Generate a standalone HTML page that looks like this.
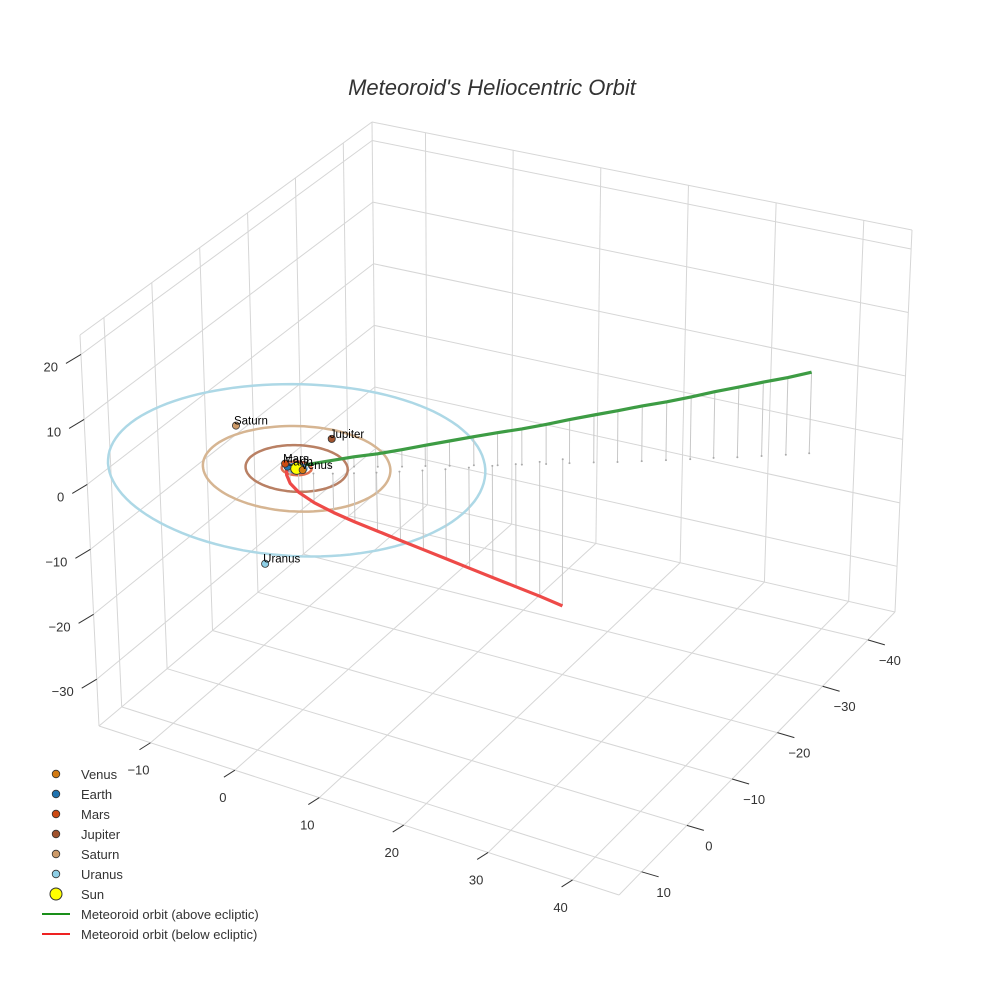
<!DOCTYPE html>
<html><head><meta charset="utf-8"><style>
html,body{margin:0;padding:0;background:#fff;}
svg{display:block;font-family:"Liberation Sans",Arial,sans-serif;}
</style></head><body>
<svg id="chart" width="984" height="984" viewBox="0 0 984 984">
<text x="492" y="95" text-anchor="middle" font-size="22" font-style="italic" fill="#333">Meteoroid's Heliocentric Orbit</text>
<g id="grid"></g>
<g id="axes"></g>
<g id="plot"></g>
<g id="legend"></g>
</svg>
<script>
// ---- data ----
const xTicks = [-10, 0, 10, 20, 30, 40];
const yTicks = [-40, -30, -20, -10, 0, 10];
const zTicks = [-30, -20, -10, 0, 10, 20];
const planetNames = ["Venus", "Earth", "Mars", "Jupiter", "Saturn", "Uranus"];
const planetX = [0.7, -0.98, -1.5, 0.74, -9.15, 7.26];
const planetY = [0.0, 0.15, -0.3, -6.15, -3.95, 20.06];
const planetZ = [0, 0, 0, 1.2, 1.0, 0];
const orbitRadius = [0.72, 1.0, 1.52, 5.2, 9.54, 19.2];
const planetColors = ["#d27a12", "#1f73b0", "#cc4a12", "#a0522d", "#cd9a68", "#8ecfe6"];
const orbitColors = ["#e0a050", "#5aa0d8", "#e07050", "#b98064", "#d6b592", "#add8e6"];
const gx = [0.6,2.7,4.8,6.9,9.0,11.0,13.1,15.2,17.3,19.4,21.5,23.5,25.6,27.7,29.8,31.9,34.0,36.0,38.1,40.2,42.3,44.3];
const gy = [-0.8,-2.1,-3.4,-4.6,-5.9,-7.2,-8.5,-9.8,-11.0,-12.3,-13.6,-14.9,-16.2,-17.4,-18.7,-20.0,-21.3,-22.6,-23.8,-25.1,-26.4,-27.7];
const gz = [0.3,0.9,1.5,2.0,2.6,3.2,3.8,4.4,5.0,5.5,6.1,6.7,7.3,7.9,8.5,9.0,9.6,10.2,10.8,11.4,11.9,12.5];
const rx = [-1.0,-0.8,-0.3,0.6,2.0,3.7,5.5,7.4,9.3,11.2,13.1,15.0,16.9,18.8,20.7,22.5];
const ry = [0.3,0.7,0.9,0.7,0.1,-0.9,-2.1,-3.4,-4.8,-6.2,-7.6,-9.1,-10.6,-12.1,-13.7,-15.3];
const rz = [0,-0.9,-1.9,-3.1,-4.5,-6.0,-7.5,-9.0,-10.6,-12.2,-13.8,-15.5,-17.2,-18.9,-20.7,-22.6];

// ---- projection ----
const XR=[-16.1,45.5], YR=[-46,15], ZR=[-37.2,23];
const C={c000:[376,493],c010:[99,726],c110:[619,895],c100:[895,612],c001:[372,122],c011:[80,335],c111:[619,485],c101:[912,230]};
function lerp(a,b,t){return [a[0]+(b[0]-a[0])*t,a[1]+(b[1]-a[1])*t];}
function PU(u,v,w){
  const b=lerp(lerp(C.c000,C.c100,u),lerp(C.c010,C.c110,u),v);
  const t=lerp(lerp(C.c001,C.c101,u),lerp(C.c011,C.c111,u),v);
  return lerp(b,t,w);
}
function nx(x){return (x-XR[0])/(XR[1]-XR[0]);}
function ny(y){return (y-YR[0])/(YR[1]-YR[0]);}
function nz(z){return (z-ZR[0])/(ZR[1]-ZR[0]);}
function P(x,y,z){return PU(nx(x),ny(y),nz(z));}
const NS="http://www.w3.org/2000/svg";
function mk(tag,attrs,parent){const e=document.createElementNS(NS,tag);for(const k in attrs)e.setAttribute(k,attrs[k]);parent.appendChild(e);return e;}
function pl(pts){return pts.map(p=>p[0].toFixed(1)+","+p[1].toFixed(1)).join(" ");}

const grid=document.getElementById('grid'), axes=document.getElementById('axes'), plot=document.getElementById('plot'), legend=document.getElementById('legend');
const GC="#d6d6d6";
function gl(a,b,name){const l=mk('line',{x1:a[0],y1:a[1],x2:b[0],y2:b[1],stroke:GC,'stroke-width':1},grid);
  
  }
xTicks.forEach(t=>gl(PU(nx(t),0,0),PU(nx(t),1,0),'floor-gridline-x'));
yTicks.forEach(t=>gl(PU(0,ny(t),0),PU(1,ny(t),0),'floor-gridline-y'));
yTicks.forEach(t=>gl(PU(0,ny(t),0),PU(0,ny(t),1),'wall-gridline-y'));
zTicks.forEach(t=>gl(PU(0,0,nz(t)),PU(0,1,nz(t)),'wall-gridline-z'));
xTicks.forEach(t=>gl(PU(nx(t),0,0),PU(nx(t),0,1),'wall-gridline-x'));
zTicks.forEach(t=>gl(PU(0,0,nz(t)),PU(1,0,nz(t)),'wall-gridline-z2'));
[[[0,0,0],[1,0,0]],[[0,0,0],[0,1,0]],[[0,1,0],[1,1,0]],[[1,0,0],[1,1,0]],[[0,0,0],[0,0,1]],[[0,1,0],[0,1,1]],[[1,0,0],[1,0,1]],[[0,0,1],[1,0,1]],[[0,0,1],[0,1,1]]]
 .forEach(e=>gl(PU(...e[0]),PU(...e[1]),'box-edge'));

function tick(p,d,label,lp,anchor,name){
  const l=mk('line',{x1:p[0],y1:p[1],x2:p[0]+d[0],y2:p[1]+d[1],stroke:'#333','stroke-width':1},axes);
  
  
  const t=mk('text',{x:lp[0],y:lp[1],'text-anchor':anchor,'font-size':13,fill:'#333'},axes);
  t.textContent=String(label).replace('-','\u2212');
  
  
}
xTicks.forEach(t=>{const p=PU(nx(t),1,0);tick(p,[-11,7],t,[p[0]-12,p[1]+32],'middle','x-axis');});
yTicks.forEach(t=>{const p=PU(1,ny(t),0);tick(p,[17,5],t,[p[0]+22,p[1]+25],'middle','y-axis');});
zTicks.forEach(t=>{const p=PU(0,1,nz(t));tick(p,[-15,9],t,[p[0]-23,p[1]+17],'end','z-axis');});

orbitRadius.forEach((r,i)=>{
  const pts=[];for(let k=0;k<=120;k++){const a=k/120*2*Math.PI;pts.push(P(r*Math.cos(a),r*Math.sin(a),0));}
  const o=mk('polyline',{points:pl(pts),fill:'none',stroke:orbitColors[i],'stroke-width':2.5},plot);
  
  
});
function stems(xs,ys,zs,name){
  xs.forEach((x,i)=>{
    const a=P(x,ys[i],zs[i]), b=P(x,ys[i],0);
    const l=mk('line',{x1:a[0],y1:a[1],x2:b[0],y2:b[1],stroke:'#c8c8c8','stroke-width':1},plot);
    
    
    const d=mk('circle',{cx:b[0],cy:b[1],r:1,fill:'#aaa'},plot);
    
    
  });
}
stems(gx,gy,gz,'above');
stems(rx,ry,rz,'below');
const gl1=mk('polyline',{points:pl(gx.map((x,i)=>P(x,gy[i],gz[i]))),fill:'none',stroke:'#3d9c44','stroke-width':3.2,'stroke-linejoin':'round'},plot);


const rl1=mk('polyline',{points:pl(rx.map((x,i)=>P(x,ry[i],rz[i]))),fill:'none',stroke:'#ee4a48','stroke-width':3.2,'stroke-linejoin':'round'},plot);


const sp=P(0,0,0);
const sun=mk('circle',{cx:sp[0],cy:sp[1],r:6,fill:'#ffff00',stroke:'#333','stroke-width':1},plot);


planetNames.forEach((n,i)=>{
  const p=P(planetX[i],planetY[i],planetZ[i]);
  const c=mk('circle',{cx:p[0],cy:p[1],r:3.6,fill:planetColors[i],stroke:'#333','stroke-width':0.8},plot);
  
  
  const t=mk('text',{x:p[0]-2,y:p[1]-1,'font-size':11.5,fill:'#000'},plot);
  t.textContent=n;
  
  
});

const legItems=planetNames.map((n,i)=>({n:n,c:planetColors[i],type:'dot'}));
legItems.push({n:'Sun',c:'#ffff00',type:'sun'});
legItems.push({n:'Meteoroid orbit (above ecliptic)',c:'#1a8f1a',type:'line'});
legItems.push({n:'Meteoroid orbit (below ecliptic)',c:'#ee2222',type:'line'});
legItems.forEach((it,i)=>{
  const y=774+i*20;
  const g=mk('g',{},legend);
  
  
  if(it.type==='line'){mk('line',{x1:42,y1:y,x2:70,y2:y,stroke:it.c,'stroke-width':2},g);}
  else if(it.type==='sun'){mk('circle',{cx:56,cy:y,r:6,fill:it.c,stroke:'#333','stroke-width':1},g);}
  else{mk('circle',{cx:56,cy:y,r:3.8,fill:it.c,stroke:'#333','stroke-width':0.8},g);}
  const t=mk('text',{x:81,y:y+5,'font-size':13,fill:'#333'},g);
  t.textContent=it.n;
});
</script>
</body></html>
